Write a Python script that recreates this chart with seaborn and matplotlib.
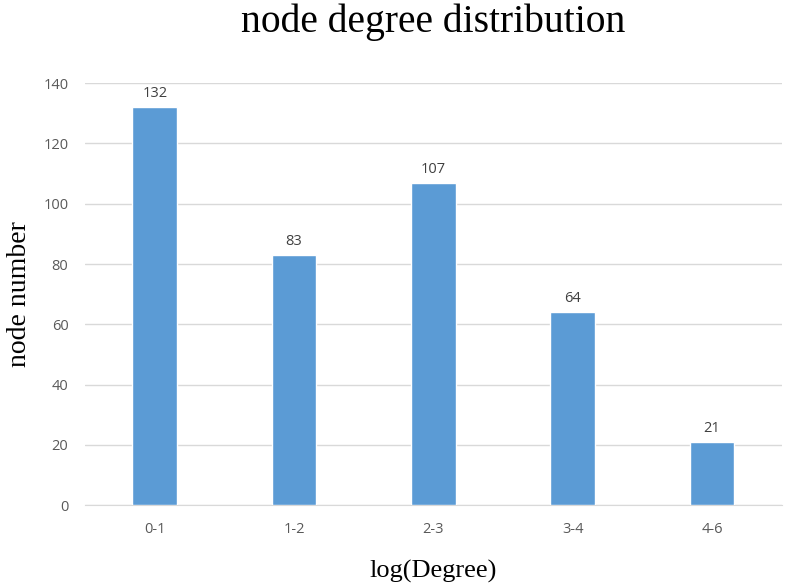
import matplotlib
matplotlib.use('Agg')
import matplotlib.pyplot as plt
import seaborn as sns
import pandas as pd

degree_bins = ["0-1", "1-2", "2-3", "3-4", "4-6"]
node_counts = [132, 83, 107, 64, 21]
y_ticks = [0, 20, 40, 60, 80, 100, 120, 140]

df = pd.DataFrame({"degree": degree_bins, "count": node_counts})

sns.set_style("white")
plt.rcParams['font.family'] = ['Open Sans', 'DejaVu Sans']

fig = plt.figure(figsize=(7.88, 5.86), dpi=100)
ax = fig.add_axes([0.108, 0.138, 0.884, 0.72])

sns.barplot(x="degree", y="count", data=df, color="#5B9BD5", width=0.32,
            saturation=1, ax=ax, zorder=3)

for i, v in enumerate(node_counts):
    ax.text(i, v + 2, str(v), ha="center", va="bottom", fontsize=10.5, color="#404040")

ax.set_ylim(0, 140)
ax.set_yticks(y_ticks)
ax.set_xlim(-0.5, 4.5)
ax.yaxis.grid(True, color="#D9D9D9", linewidth=1, zorder=0)
for s in ["top", "right", "left"]:
    ax.spines[s].set_visible(False)
ax.spines["bottom"].set_color("#D9D9D9")
ax.tick_params(axis="both", length=0, labelsize=10.5, labelcolor="#595959", pad=12)
ax.tick_params(axis="x", pad=12)

serif = ['Liberation Serif', 'DejaVu Serif']
ax.set_xlabel("log(Degree)", fontsize=19, family=serif, color="black", va="center")
ax.set_ylabel("node number", fontsize=20, family=serif, color="black", va="center")
ax.xaxis.set_label_coords(0.5, -0.158)
ax.yaxis.set_label_coords(-0.094, 0.5)
fig.text(0.55, 0.962, "node degree distribution", fontsize=28.5, family=serif,
         ha="center", va="center", color="black")

fig.savefig("out.png", dpi=100)
plt.close()
